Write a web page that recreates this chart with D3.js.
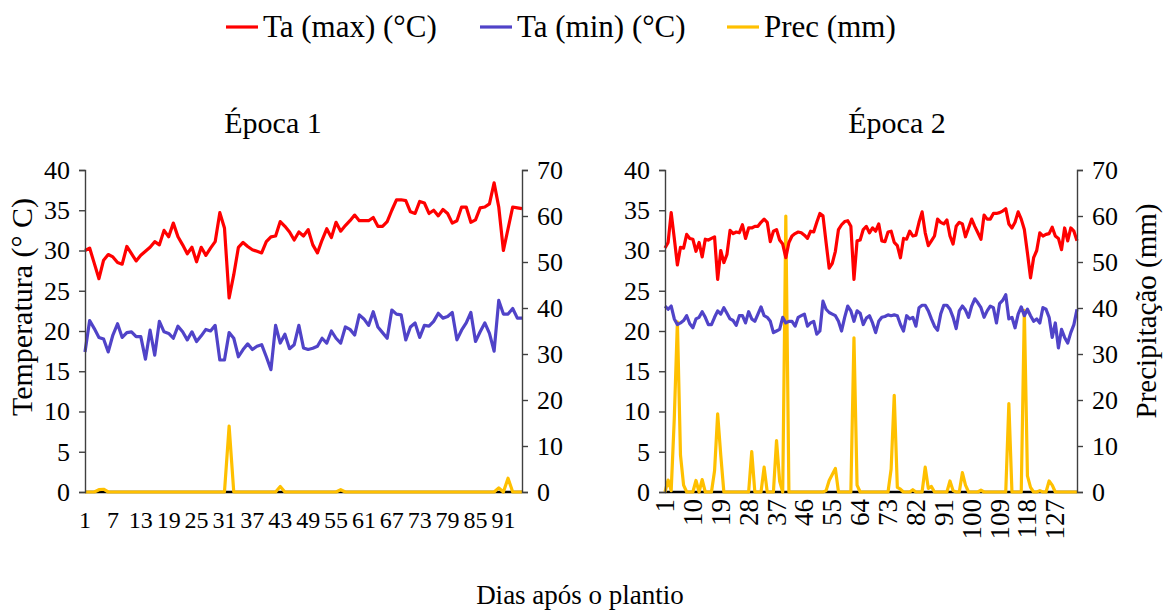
<!DOCTYPE html>
<html>
<head>
<meta charset="utf-8">
<script src="https://cdn.jsdelivr.net/npm/d3@7"></script>
<style>
  body { margin: 0; background: #fff; }
  svg text { font-family: "Liberation Serif", "Times New Roman", serif; fill: #000; }
  .axis path, .axis line { stroke: #404040; stroke-width: 1.4; }
  .axis text { font-size: 26px; font-family: "Liberation Serif", "Times New Roman", serif; }
  .axis text.cat { font-size: 24px; }
  .axis text.catr { font-size: 27px; }
</style>
</head>
<body>
<svg id="chart" width="1163" height="611"></svg>
<script>
// Época 1 (95 dias)
const tmax1 = [30.0,30.3,28.4,26.5,28.8,29.5,29.2,28.5,28.3,30.5,29.6,28.7,29.4,29.9,30.4,31.1,30.7,32.5,31.7,33.4,
  31.7,30.7,29.6,30.4,28.6,30.4,29.4,30.3,31.1,34.7,32.8,24.1,27.0,30.4,31.0,30.5,30.1,29.9,29.7,31.1,
  31.7,31.8,33.6,33.0,32.3,31.3,32.3,31.8,32.6,30.7,29.7,31.3,32.7,31.6,33.5,32.4,33.1,33.7,34.4,33.7,
  33.7,33.7,34.1,33.0,33.0,33.6,35.0,36.3,36.3,36.2,34.8,34.6,36.1,35.9,34.6,35.0,34.3,35.1,34.6,33.4,
  33.7,35.4,35.4,33.5,33.8,35.3,35.4,35.8,38.4,35.4,30.0,32.7,35.4,35.3,35.2];
const tmin1 = [17.4,21.3,20.3,19.2,19.0,17.4,19.5,20.9,19.2,19.8,19.9,19.3,19.3,16.5,20.1,17.0,21.2,19.9,19.7,19.1,
  20.6,19.9,18.9,19.9,18.7,19.4,20.2,20.0,20.7,16.4,16.4,19.8,19.1,16.8,17.7,18.4,17.7,18.1,18.3,16.8,
  15.2,20.7,18.5,19.6,17.8,18.3,20.7,17.9,17.7,17.85,18.1,19.1,18.5,20.0,19.1,18.5,20.5,20.2,19.5,22.0,
  21.5,20.7,22.4,20.5,19.8,19.1,22.6,22.1,22.0,18.9,20.5,21.0,19.2,20.7,20.6,21.2,22.2,21.6,21.8,22.3,
  18.9,20.1,21.0,22.3,18.7,19.9,21.0,19.7,17.5,23.8,22.1,22.1,22.8,21.6,21.6];
const prec1 = [0,0,0,0.5,0.6,0,0,0,0,0,0,0,0,0,0,0,0,0,0,0,
  0,0,0,0,0,0,0,0,0,0,0,14.3,0,0,0,0,0,0,0,0,
  0,0,1.2,0,0,0,0,0,0,0,0,0,0,0,0,0.5,0,0,0,0,
  0,0,0,0,0,0,0,0,0,0,0,0,0,0,0,0,0,0,0,0,
  0,0,0,0,0,0,0,0,0,0.9,0,3.0,0,0,0];

// Época 2 (134 dias)
const tmax2 = [30.3,31.0,34.7,31.5,28.2,30.4,30.3,32.0,31.5,31.4,29.9,31.0,29.2,31.4,31.3,31.5,31.7,26.4,30.0,28.5,
  29.5,32.5,32.1,32.3,32.2,33.2,31.5,32.8,32.8,33.0,33.0,33.5,33.9,33.5,31.1,32.4,32.6,31.3,30.8,29.1,
  31.0,31.8,32.1,32.3,32.2,31.9,31.5,32.4,32.3,33.5,34.6,34.3,31.0,27.8,28.4,29.9,32.6,33.2,33.6,33.7,
  33.0,26.4,31.2,31.3,32.6,33.0,32.2,32.8,32.4,33.3,31.2,31.1,32.3,32.4,31.0,30.6,29.1,31.5,31.4,32.4,
  31.8,31.9,33.5,34.8,32.2,30.6,31.2,31.8,33.9,33.5,33.3,33.8,31.8,30.8,33.0,33.5,33.3,31.7,32.8,33.9,
  33.0,32.2,31.4,34.4,33.9,33.9,34.6,34.6,34.7,34.9,35.2,33.3,32.8,33.5,34.8,33.9,32.6,29.7,26.6,29.1,
  30.0,32.2,31.8,32.0,32.1,32.9,31.8,31.5,30.1,32.8,31.2,32.8,32.4,31.2];
const tmin2 = [23.1,22.7,23.1,21.5,20.8,21.0,21.3,21.9,20.9,20.4,21.5,21.7,22.4,21.7,20.8,20.8,21.7,22.5,22.1,22.9,
  22.2,21.5,21.3,20.7,21.9,21.9,21.0,22.4,21.5,21.2,22.1,23.0,21.9,21.7,21.2,19.8,20.0,20.2,21.7,21.0,
  21.2,21.2,20.6,21.7,21.9,22.1,20.6,21.0,21.2,19.6,20.0,23.7,22.7,22.3,22.1,21.9,21.2,20.0,21.7,23.1,
  22.5,21.2,22.5,22.2,20.8,21.6,21.9,21.0,19.8,21.2,21.7,21.8,22.0,21.9,22.0,21.9,20.8,20.0,21.9,21.5,
  21.7,20.6,22.9,23.2,23.2,22.5,21.5,20.6,20.1,22.1,23.2,23.2,22.7,21.7,20.3,22.5,23.1,22.6,21.7,23.1,
  24.0,23.5,22.9,21.7,22.5,23.1,22.9,21.0,23.4,23.8,24.5,21.5,21.7,20.4,22.1,23.0,21.9,22.7,21.9,21.2,
  21.5,21.0,22.9,22.7,21.7,19.2,21.0,17.9,20.2,19.2,18.5,19.8,20.8,22.7];
const prec2 = [0,2.6,0.3,16,37,8,1.5,0,0,0,2.5,0,2.7,0,0,0,4.6,17,8,0,
  0,0,0,0,0,0,0,0,8.8,0,0,0,5.4,0,0,0,11.2,2.4,0,60,
  0,0,0,0,0,0,0,0,0,0,0,0,0.3,2.5,3.8,5.1,0,0,0,0,
  0,33.5,1.5,0,0,0,0,0,0,0,0,0,0,5,21,1.0,0.6,0,0,0,
  0.5,0,0,0,5.4,0.8,1.2,0,0,0,0,0,2.4,0.3,0,0,4.2,1.5,0,0,
  0,0,0.4,0,0,0,0,0,0,0,0,19.2,0,0,0,0,39.5,3.5,1.0,0,
  0,0.3,0,0,2.4,1.5,0,0,0,0,0,0,0,0];

const tempTicks = [0, 5, 10, 15, 20, 25, 30, 35, 40];
const precTicks = [0, 10, 20, 30, 40, 50, 60, 70];
const dayTicks1 = [1, 7, 13, 19, 25, 31, 37, 43, 49, 55, 61, 67, 73, 79, 85, 91];
const dayTicks2 = [1, 10, 19, 28, 37, 46, 55, 64, 73, 82, 91, 100, 109, 118, 127];

const seriesNames = ["Ta (max) (°C)", "Ta (min) (°C)", "Prec (mm)"];
const colors = ["#ff0000", "#5043c8", "#ffc000"];

const svg = d3.select("#chart");
const plotTop = 170, plotBottom = 492;

function panel(opts) {
  const x = d3.scaleLinear().domain([1, opts.tmax.length]).range([opts.left, opts.right]);
  const yT = d3.scaleLinear().domain([0, 40]).range([plotBottom, plotTop]);
  const yP = d3.scaleLinear().domain([0, 70]).range([plotBottom, plotTop]);
  const g = svg.append("g");

  // x axis baseline
  g.append("line")
    .attr("x1", opts.left).attr("x2", opts.right)
    .attr("y1", plotBottom).attr("y2", plotBottom)
    .attr("stroke", "#000").attr("stroke-width", 2.5);

  const lineT = d3.line().x((d, i) => x(i + 1)).y(d => yT(d));
  const lineP = d3.line().x((d, i) => x(i + 1)).y(d => yP(d));

  g.append("path").datum(opts.prec).attr("d", lineP)
    .attr("fill", "none").attr("stroke", colors[2]).attr("stroke-width", 3.2).attr("stroke-linejoin", "round");
  g.append("path").datum(opts.tmin).attr("d", lineT)
    .attr("fill", "none").attr("stroke", colors[1]).attr("stroke-width", 3.2).attr("stroke-linejoin", "round");
  g.append("path").datum(opts.tmax).attr("d", lineT)
    .attr("fill", "none").attr("stroke", colors[0]).attr("stroke-width", 3.2).attr("stroke-linejoin", "round");

  g.append("g").attr("class", "axis")
    .attr("transform", `translate(${opts.left},0)`)
    .call(d3.axisLeft(yT).tickValues(tempTicks).tickSize(6).tickSizeOuter(6).tickPadding(9));

  g.append("g").attr("class", "axis")
    .attr("transform", `translate(${opts.right},0)`)
    .call(d3.axisRight(yP).tickValues(precTicks).tickSize(6).tickSizeOuter(6).tickPadding(9));

  // category labels
  const xl = g.append("g").attr("class", "axis");
  if (opts.rotate) {
    xl.selectAll("text").data(opts.dayTicks).join("text")
      .attr("class", "catr")
      .attr("transform", d => `translate(${x(d) + 9},${plotBottom + 7}) rotate(-90)`)
      .attr("text-anchor", "end")
      .text(d => d);
  } else {
    xl.selectAll("text").data(opts.dayTicks).join("text")
      .attr("class", "cat")
      .attr("x", d => x(d)).attr("y", plotBottom + 36)
      .attr("text-anchor", "middle")
      .text(d => d);
  }

  svg.append("text")
    .attr("x", opts.titleX).attr("y", 133)
    .attr("text-anchor", "middle").attr("font-size", 30)
    .text(opts.title);
}

panel({ left: 85, right: 522, tmax: tmax1, tmin: tmin1, prec: prec1, dayTicks: dayTicks1, rotate: false, title: "Época 1", titleX: 273 });
panel({ left: 665, right: 1077, tmax: tmax2, tmin: tmin2, prec: prec2, dayTicks: dayTicks2, rotate: true, title: "Época 2", titleX: 897 });

// axis titles
svg.append("text")
  .attr("transform", "translate(32,307) rotate(-90)")
  .attr("text-anchor", "middle").attr("font-size", 30)
  .text("Temperatura (° C)");
svg.append("text")
  .attr("transform", "translate(1156,311) rotate(-90)")
  .attr("text-anchor", "middle").attr("font-size", 29)
  .text("Precipitação (mm)");
svg.append("text")
  .attr("x", 580).attr("y", 604)
  .attr("text-anchor", "middle").attr("font-size", 27)
  .text("Dias após o plantio");

// legend
const legendX = [226, 480, 727];
const legend = svg.append("g");
seriesNames.forEach((name, i) => {
  legend.append("line")
    .attr("x1", legendX[i]).attr("x2", legendX[i] + 32)
    .attr("y1", 27).attr("y2", 27)
    .attr("stroke", colors[i]).attr("stroke-width", 3.2);
  legend.append("text")
    .attr("x", legendX[i] + 37).attr("y", 37)
    .attr("font-size", 31)
    .text(name);
});
</script>
</body>
</html>
